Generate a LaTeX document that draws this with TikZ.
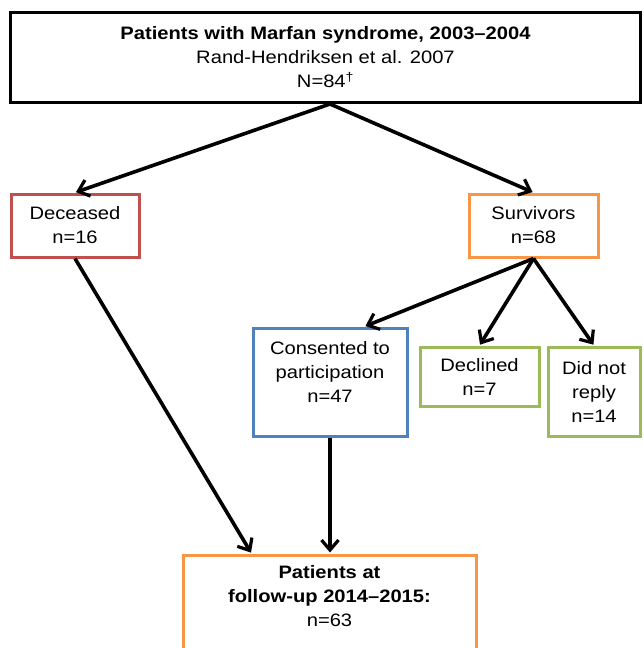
\documentclass[tikz,border=0pt]{standalone}
\usepackage{fontspec}
\setmainfont[FakeStretch=1.12]{Liberation Sans}
\usetikzlibrary{arrows.meta,calc}
\definecolor{mred}{HTML}{C0504D}
\definecolor{morange}{HTML}{F79646}
\definecolor{mblue}{HTML}{4F81BD}
\definecolor{mgreen}{HTML}{9BBB59}
\begin{document}
\begin{tikzpicture}[x=1pt,y=-1pt,
  box/.style={draw=#1,line width=3pt,inner sep=0pt,align=center,fill=white,
    font=\fontsize{18}{24}\selectfont},
  arr/.style={line width=3.6pt,shorten >=1pt,-{Straight Barb[length=10pt,width=17pt,line width=3.2pt]}}]
\useasboundingbox (0,0) rectangle (644,648);
\node[box=black,minimum width=630pt,minimum height=90pt] (top) at (325.5,57.5)
  {\textbf{Patients with Marfan syndrome, 2003–2004}\\Rand-Hendriksen et al. 2007\\N=84\textsuperscript{†}};
\node[box=mred,minimum width=128pt,minimum height=63pt] (dec) at (75,225.5) {Deceased\\n=16};
\node[box=morange,minimum width=129pt,minimum height=63pt] (surv) at (533.5,225.5) {Survivors\\n=68};
\node[box=mblue,minimum width=154pt,minimum height=108pt,text depth=20pt] (cons) at (330,382) {Consented to\\participation\\n=47};
\node[box=mgreen,minimum width=119pt,minimum height=59pt] (decl) at (479.5,376.5) {Declined\\n=7};
\node[box=mgreen,minimum width=92pt,minimum height=89pt] (dnr) at (594,391.5) {Did not\\reply\\n=14};
\node[box=morange,minimum width=293pt,anchor=north,inner ysep=10pt,text depth=45pt] (fu) at (329.5,553.5)
  {\textbf{Patients at}\\\textbf{follow-up 2014–2015:}\\n=63};
\coordinate (topout) at (top.south -| cons.north);
\draw[arr] (topout) -- (dec.north);
\draw[arr] (topout) -- (surv.north);
\draw[arr] (dec.south) -- ([xshift=70pt]fu.north west);
\draw[arr] (surv.south) -- ([xshift=113pt]cons.north west);
\draw[arr] (surv.south) -- (decl.north);
\draw[arr] (surv.south) -- (dnr.north);
\draw[arr] (cons.south) -- (cons.south |- fu.north);
\end{tikzpicture}
\end{document}
